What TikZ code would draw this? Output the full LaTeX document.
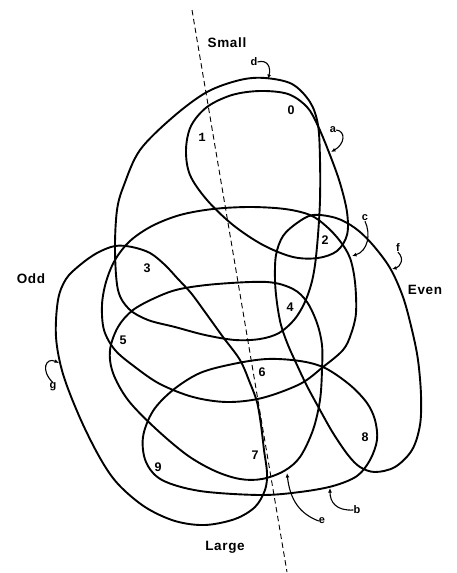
\documentclass[tikz,border=0pt]{standalone}
\usepackage{fontspec}
\setsansfont{Liberation Sans}[LetterSpace=5.0]
\newfontfamily\footone{Liberation Mono}
\usetikzlibrary{arrows.meta}
\begin{document}
\begin{tikzpicture}[x=1pt,y=-1pt,
  curve/.style={line width=1.9pt, line join=round},
  divider/.style={line width=0.9pt, dash pattern=on 5.5pt off 3.5pt},
  ptr/.style={line width=1.1pt, -{Latex[length=4.5pt,width=3.8pt]}},
  digit/.style={font=\sffamily\bfseries\fontsize{12.5}{12.5}\selectfont, inner sep=0pt},
  lbl/.style={font=\sffamily\bfseries\fontsize{11}{11}\selectfont, inner sep=0pt},
  word/.style={font=\sffamily\bfseries\fontsize{13.5}{13.5}\selectfont, inner sep=0pt}]
\useasboundingbox (0,0) rectangle (457,573);
\fill[white] (0,0) rectangle (457,573);

% dashed divider
\coordinate (dtop) at (192,10);
\coordinate (dbot) at (287,572);
\draw[divider] (dtop) -- (dbot);

% curve a
\draw[curve] plot[smooth cycle, tension=0.55] coordinates {
 (207,107) (232,95) (260,91) (288,94) (307,107) (318,126) (330,155) (340,183)
 (347,212) (347,235) (337,251) (318,258) (293,257) (263,245) (233,225) (207,200)
 (190,175) (186,150) (191,126)};
% curve d
\draw[curve] plot[smooth cycle, tension=0.55] coordinates {
 (115,250) (117,210) (124,185) (140,150) (173,117) (207,92) (240,80) (265,78)
 (292,84) (310,102) (318,125) (320,160) (320,200) (318,235) (315,265) (311,285)
 (304,304) (294,320) (279,333) (260,339) (235,340) (205,335) (175,327) (148,320)
 (129,309) (118,290)};
% curve c
\draw[curve] plot[smooth cycle, tension=0.55] coordinates {
 (102,305) (106,282) (115,260) (130,241) (152,226) (180,215) (213,209) (250,207)
 (285,209) (310,215) (326,226) (340,241) (350,258) (355,282) (356,313) (351,334)
 (343,350) (323,367) (300,384) (262,398) (227,402) (193,397) (160,384) (135,367)
 (115,350) (104,330)};
% curve f
\draw[curve] plot[smooth cycle, tension=0.55] coordinates {
 (283,236) (297,223) (313,215) (336,218) (355,228) (372,244) (390,268) (403,297)
 (412,330) (418,360) (421,395) (420,425) (412,450) (395,467) (375,472) (360,467)
 (348,455) (333,433) (320,410) (307,386) (297,365) (288,345) (281,325) (277,303)
 (275,280) (276,255)};
% curve e
\draw[curve] plot[smooth cycle, tension=0.55] coordinates {
 (133,310) (157,297) (180,289) (217,284) (267,282) (293,289) (307,302) (317,323)
 (322,345) (322,370) (320,400) (313,430) (300,457) (284,471) (262,479) (240,479)
 (215,471) (187,455) (155,428) (128,400) (113,373) (110,350) (118,327)};
% curve b
\draw[curve] plot[smooth cycle, tension=0.55] coordinates {
 (143,437) (146,462) (162,480) (200,491) (260,495) (300,492) (333,486) (357,476)
 (370,460) (377,440) (375,420) (367,403) (350,385) (325,368) (300,361) (267,359)
 (233,364) (200,373) (173,390) (153,411)};
% curve g
\draw[curve] plot[smooth cycle, tension=0.55] coordinates {
 (58,300) (66,279) (80,265) (97,253) (115,246) (132,247) (150,253) (165,265)
 (178,279) (191,293) (205,312) (223,337) (240,360) (250,383) (257,402) (261,425)
 (264,450) (267,473) (265,490) (255,507) (235,519) (205,525) (175,521) (145,507)
 (118,484) (100,458) (80,418) (63,374) (56,337)};

% digits
\node[digit] (n0) at (291,110) {0};
\node[digit] (n1) at (202,137) {\footone\bfseries 1};
\node[digit] (n2) at (325,240) {2};
\node[digit] (n3) at (147,268) {3};
\node[digit] (n4) at (290,307) {4};
\node[digit] (n5) at (123,340) {5};
\node[digit] (n6) at (262,372) {6};
\node[digit] (n7) at (255,455) {7};
\node[digit] (n8) at (365,437) {8};
\node[digit] (n9) at (158,467) {9};

% words
\node[word] (small) at (227,43) {Small};
\node[word] (large) at (225,547) {Large};
\node[word] (odd) at (31,279) {Odd};
\node[word] (even) at (425,290) {Even};

% curve labels with pointers
\node[lbl] (la) at (333,130) {a};
\node[lbl] (lb) at (357,510) {b};
\node[lbl] (lc) at (365,218) {c};
\node[lbl] (ld) at (254,62) {d};
\node[lbl] (le) at (322,521) {e};
\node[lbl] (lf) at (398,248) {f};
\node[lbl] (lg) at (53,387) {g};

\coordinate (ta) at (331,152);
\coordinate (tb) at (330,488);
\coordinate (tc) at (352,256);
\coordinate (td) at (268,79);
\coordinate (te) at (287,473);
\coordinate (tf) at (392,269);
\coordinate (tg) at (59,363);

\draw[ptr] (la.east) .. controls (346,131) and (345,144) .. (ta);
\draw[ptr] (lb.west) .. controls (336,511) and (330,502) .. (tb);
\draw[ptr] (lc.south) .. controls (371,234) and (368,251) .. (tc);
\draw[ptr] (ld.east) .. controls (268,59) and (271,68) .. (td);
\draw[ptr] (le.west) .. controls (300,514) and (290,500) .. (te);
\draw[ptr] (lf.south) .. controls (405,259) and (400,267) .. (tf);
\draw[ptr] (lg.north) .. controls (40,370) and (46,357) .. (tg);
\end{tikzpicture}
\end{document}
